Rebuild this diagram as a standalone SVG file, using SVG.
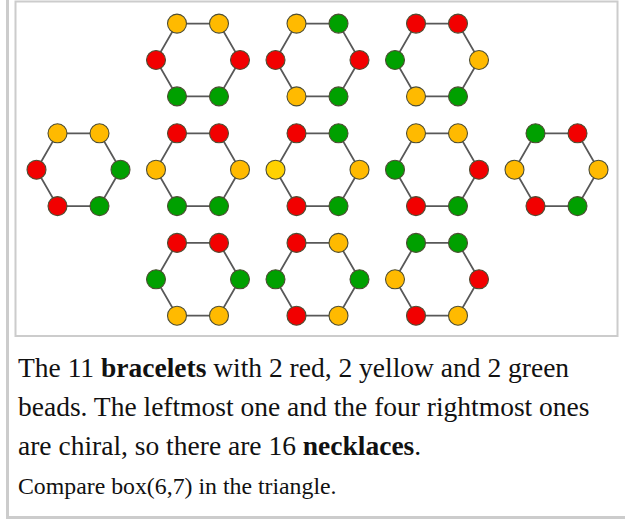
<svg xmlns="http://www.w3.org/2000/svg" width="625" height="523" viewBox="0 0 625 523">
<defs>
<style>
.ring{fill:none;stroke:#585858;stroke-width:1.8}
.b{stroke:#4d4d33;stroke-width:1.1}
.r{fill:#f20000}
.y{fill:#ffba00}
.yl{fill:#ffd200}
.g{fill:#00a000}
.t{font-family:"Liberation Serif","Times New Roman",serif;fill:#111}
.frame{fill:none;stroke:#cccccc}
</style>
<polygon id="hex" points="42,0 21,36.4 -21,36.4 -42,0 -21,-36.4 21,-36.4"/>
</defs>
<rect width="625" height="523" fill="#fff"/>
<!-- outer caption frame -->
<path class="frame" stroke-width="3" d="M7.5,-5 V517.5 H630"/>
<!-- inner image frame -->
<rect class="frame" stroke-width="2" x="15.5" y="1.5" width="602" height="334.5" fill="#fff"/>

<g id="connectors">
<use href="#hex" class="ring" x="198" y="60"/>
<use href="#hex" class="ring" x="317.5" y="60"/>
<use href="#hex" class="ring" x="437" y="60"/>
<use href="#hex" class="ring" x="78.5" y="169.7"/>
<use href="#hex" class="ring" x="198" y="169.7"/>
<use href="#hex" class="ring" x="317.5" y="169.7"/>
<use href="#hex" class="ring" x="437" y="169.7"/>
<use href="#hex" class="ring" x="556.5" y="169.7"/>
<use href="#hex" class="ring" x="198" y="279.3"/>
<use href="#hex" class="ring" x="317.5" y="279.3"/>
<use href="#hex" class="ring" x="437" y="279.3"/>
</g>

<!-- bead order: TL, TR, R, BR, BL, L -->
<g id="bracelet1" transform="translate(198,60)">
<circle class="b y" cx="-21" cy="-36.4" r="9.5"/><circle class="b y" cx="21" cy="-36.4" r="9.5"/><circle class="b r" cx="42" cy="0" r="9.5"/><circle class="b g" cx="21" cy="36.4" r="9.5"/><circle class="b g" cx="-21" cy="36.4" r="9.5"/><circle class="b r" cx="-42" cy="0" r="9.5"/>
</g>
<g id="bracelet2" transform="translate(317.5,60)">
<circle class="b y" cx="-21" cy="-36.4" r="9.5"/><circle class="b g" cx="21" cy="-36.4" r="9.5"/><circle class="b r" cx="42" cy="0" r="9.5"/><circle class="b g" cx="21" cy="36.4" r="9.5"/><circle class="b y" cx="-21" cy="36.4" r="9.5"/><circle class="b r" cx="-42" cy="0" r="9.5"/>
</g>
<g id="bracelet3" transform="translate(437,60)">
<circle class="b r" cx="-21" cy="-36.4" r="9.5"/><circle class="b r" cx="21" cy="-36.4" r="9.5"/><circle class="b y" cx="42" cy="0" r="9.5"/><circle class="b g" cx="21" cy="36.4" r="9.5"/><circle class="b y" cx="-21" cy="36.4" r="9.5"/><circle class="b g" cx="-42" cy="0" r="9.5"/>
</g>
<g id="bracelet4" transform="translate(78.5,169.7)">
<circle class="b y" cx="-21" cy="-36.4" r="9.5"/><circle class="b y" cx="21" cy="-36.4" r="9.5"/><circle class="b g" cx="42" cy="0" r="9.5"/><circle class="b g" cx="21" cy="36.4" r="9.5"/><circle class="b r" cx="-21" cy="36.4" r="9.5"/><circle class="b r" cx="-42" cy="0" r="9.5"/>
</g>
<g id="bracelet5" transform="translate(198,169.7)">
<circle class="b r" cx="-21" cy="-36.4" r="9.5"/><circle class="b r" cx="21" cy="-36.4" r="9.5"/><circle class="b y" cx="42" cy="0" r="9.5"/><circle class="b g" cx="21" cy="36.4" r="9.5"/><circle class="b g" cx="-21" cy="36.4" r="9.5"/><circle class="b y" cx="-42" cy="0" r="9.5"/>
</g>
<g id="bracelet6" transform="translate(317.5,169.7)">
<circle class="b r" cx="-21" cy="-36.4" r="9.5"/><circle class="b g" cx="21" cy="-36.4" r="9.5"/><circle class="b y" cx="42" cy="0" r="9.5"/><circle class="b g" cx="21" cy="36.4" r="9.5"/><circle class="b r" cx="-21" cy="36.4" r="9.5"/><circle class="b yl" cx="-42" cy="0" r="9.5"/>
</g>
<g id="bracelet7" transform="translate(437,169.7)">
<circle class="b y" cx="-21" cy="-36.4" r="9.5"/><circle class="b y" cx="21" cy="-36.4" r="9.5"/><circle class="b r" cx="42" cy="0" r="9.5"/><circle class="b g" cx="21" cy="36.4" r="9.5"/><circle class="b r" cx="-21" cy="36.4" r="9.5"/><circle class="b g" cx="-42" cy="0" r="9.5"/>
</g>
<g id="bracelet8" transform="translate(556.5,169.7)">
<circle class="b g" cx="-21" cy="-36.4" r="9.5"/><circle class="b r" cx="21" cy="-36.4" r="9.5"/><circle class="b y" cx="42" cy="0" r="9.5"/><circle class="b g" cx="21" cy="36.4" r="9.5"/><circle class="b r" cx="-21" cy="36.4" r="9.5"/><circle class="b y" cx="-42" cy="0" r="9.5"/>
</g>
<g id="bracelet9" transform="translate(198,279.3)">
<circle class="b r" cx="-21" cy="-36.4" r="9.5"/><circle class="b r" cx="21" cy="-36.4" r="9.5"/><circle class="b g" cx="42" cy="0" r="9.5"/><circle class="b y" cx="21" cy="36.4" r="9.5"/><circle class="b y" cx="-21" cy="36.4" r="9.5"/><circle class="b g" cx="-42" cy="0" r="9.5"/>
</g>
<g id="bracelet10" transform="translate(317.5,279.3)">
<circle class="b r" cx="-21" cy="-36.4" r="9.5"/><circle class="b y" cx="21" cy="-36.4" r="9.5"/><circle class="b g" cx="42" cy="0" r="9.5"/><circle class="b y" cx="21" cy="36.4" r="9.5"/><circle class="b r" cx="-21" cy="36.4" r="9.5"/><circle class="b g" cx="-42" cy="0" r="9.5"/>
</g>
<g id="bracelet11" transform="translate(437,279.3)">
<circle class="b g" cx="-21" cy="-36.4" r="9.5"/><circle class="b g" cx="21" cy="-36.4" r="9.5"/><circle class="b r" cx="42" cy="0" r="9.5"/><circle class="b y" cx="21" cy="36.4" r="9.5"/><circle class="b r" cx="-21" cy="36.4" r="9.5"/><circle class="b y" cx="-42" cy="0" r="9.5"/>
</g>

<g id="caption" class="t">
<text x="18" y="377" font-size="27.5">The 11 <tspan font-weight="bold">bracelets</tspan> with 2 red, 2 yellow and 2 green</text>
<text x="18" y="416" font-size="27.5">beads. The leftmost one and the four rightmost ones</text>
<text x="18" y="455" font-size="27.5">are chiral, so there are 16 <tspan font-weight="bold">necklaces</tspan>.</text>
<text x="18" y="494" font-size="23.8">Compare box(6,7) in the triangle.</text>
</g>
</svg>
